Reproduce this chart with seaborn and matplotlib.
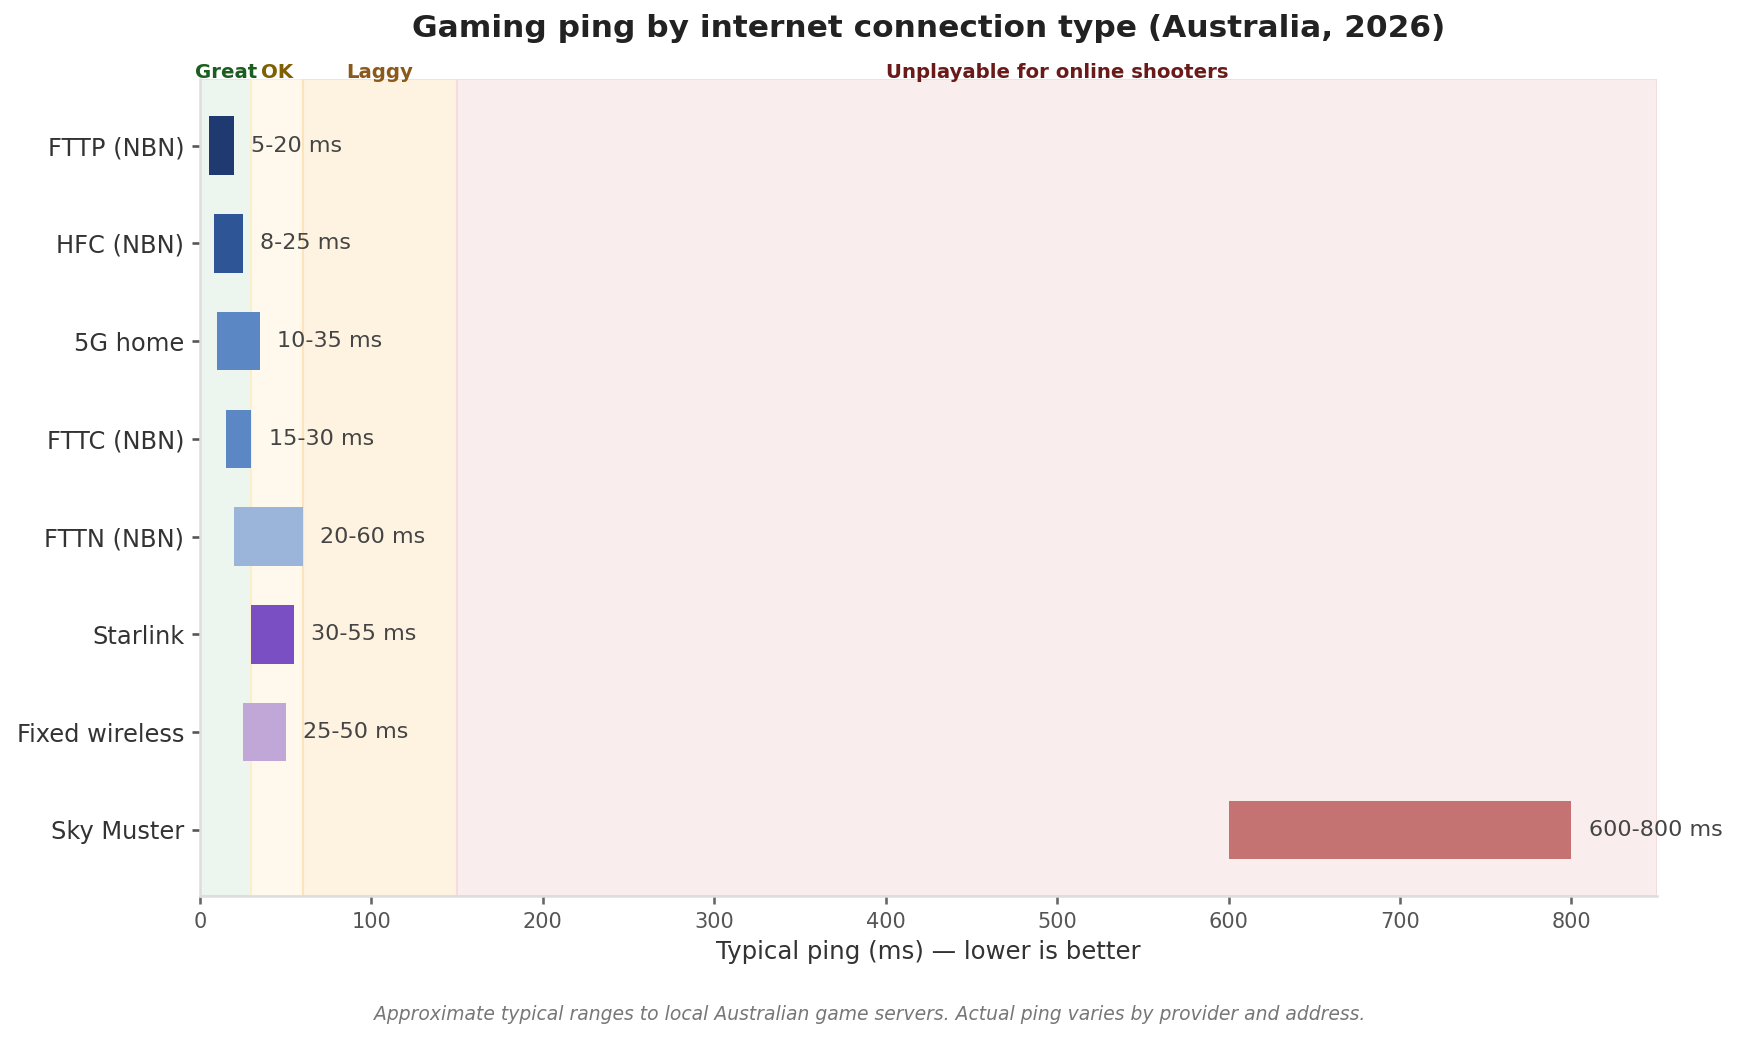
import numpy as np
import pandas as pd
import seaborn as sns
from matplotlib import pyplot as plt

# Typical ping ranges (ms) per connection type
connections = ["FTTP (NBN)", "HFC (NBN)", "5G home", "FTTC (NBN)",
               "FTTN (NBN)", "Starlink", "Fixed wireless", "Sky Muster"]
ping_low = [5, 8, 10, 15, 20, 30, 25, 600]
ping_high = [20, 25, 35, 30, 60, 55, 50, 800]
bar_colors = ["#1f3a70", "#2e5596", "#5b87c4", "#5b87c4",
              "#9bb4d9", "#7b4fc4", "#c1a7d8", "#c47272"]

# Playability zones
zone_names = ["Great", "OK", "Laggy", "Unplayable for online shooters"]
zone_start = [0, 30, 60, 150]
zone_end = [30, 60, 150, 850]
zone_fill = ["#edf6ee", "#fef9ec", "#fef3e1", "#faeded"]
zone_edge = ["#dcebdd", "#fbeecb", "#fde3bb", "#f6dcdc"]
zone_text = ["#1b5e20", "#806000", "#8b5a1a", "#6b1a1a"]

df = pd.DataFrame({
    "connection": connections,
    "low": ping_low,
    "high": ping_high,
})
df["span"] = df["high"] - df["low"]

sns.set_theme(style="white")
plt.rcParams["font.family"] = ["DejaVu Sans"]

fig, ax = plt.subplots(figsize=(11.593, 6.94), dpi=150)
fig.subplots_adjust(left=0.115, right=0.953, top=0.924, bottom=0.139)

# Range bars: seaborn draws the span, then each bar is shifted to its low value
sns.barplot(data=df, x="span", y="connection",
            hue="connection", palette=bar_colors, legend=False,
            width=0.6, saturation=1, linewidth=0, ax=ax, zorder=3)

for patch in list(ax.patches):
    idx = int(round(patch.get_y() + patch.get_height() / 2))
    if 0 <= idx < len(ping_low):
        patch.set_x(ping_low[idx])

# Zone backgrounds
for name, x0, x1, fc, ec, tc in zip(zone_names, zone_start, zone_end,
                                    zone_fill, zone_edge, zone_text):
    ax.axvspan(x0, x1, facecolor=fc, edgecolor=ec, linewidth=1, zorder=0)
    ax.text((x0 + x1) / 2, 0.997, name, transform=ax.get_xaxis_transform(),
            ha="center", va="bottom", fontsize=9.5, fontweight="bold", color=tc)

for i, (lo, hi) in enumerate(zip(ping_low, ping_high)):
    ax.text(hi + 10, i, f"{lo}-{hi} ms", va="center", ha="left",
            fontsize=10.7, color="#444444", zorder=4)

ax.set_xlim(0, 850)
ax.set_ylim(7.68, -0.68)
ax.set_xticks([0, 100, 200, 300, 400, 500, 600, 700, 800])
ax.set_xlabel("Typical ping (ms) \u2014 lower is better", fontsize=11.7, color="#333333")
ax.set_ylabel("")
ax.set_title("Gaming ping by internet connection type (Australia, 2026)",
             fontsize=15, fontweight="bold", color="#222222", pad=20)

ax.tick_params(axis="y", labelsize=11.6, colors="#555555", labelcolor="#333333",
               left=True, length=4)
ax.tick_params(axis="x", labelsize=10, colors="#666666", labelcolor="#555555",
               bottom=True, length=4)
sns.despine(ax=ax)
for side in ["left", "bottom"]:
    ax.spines[side].set_color("#dddddd")
    ax.spines[side].set_linewidth(1.2)

fig.text(0.5, 0.025, "Approximate typical ranges to local Australian game servers. "
         "Actual ping varies by provider and address.",
         ha="center", va="center", fontsize=9, style="italic", color="#777777")

fig.savefig("out.png", dpi=150)
